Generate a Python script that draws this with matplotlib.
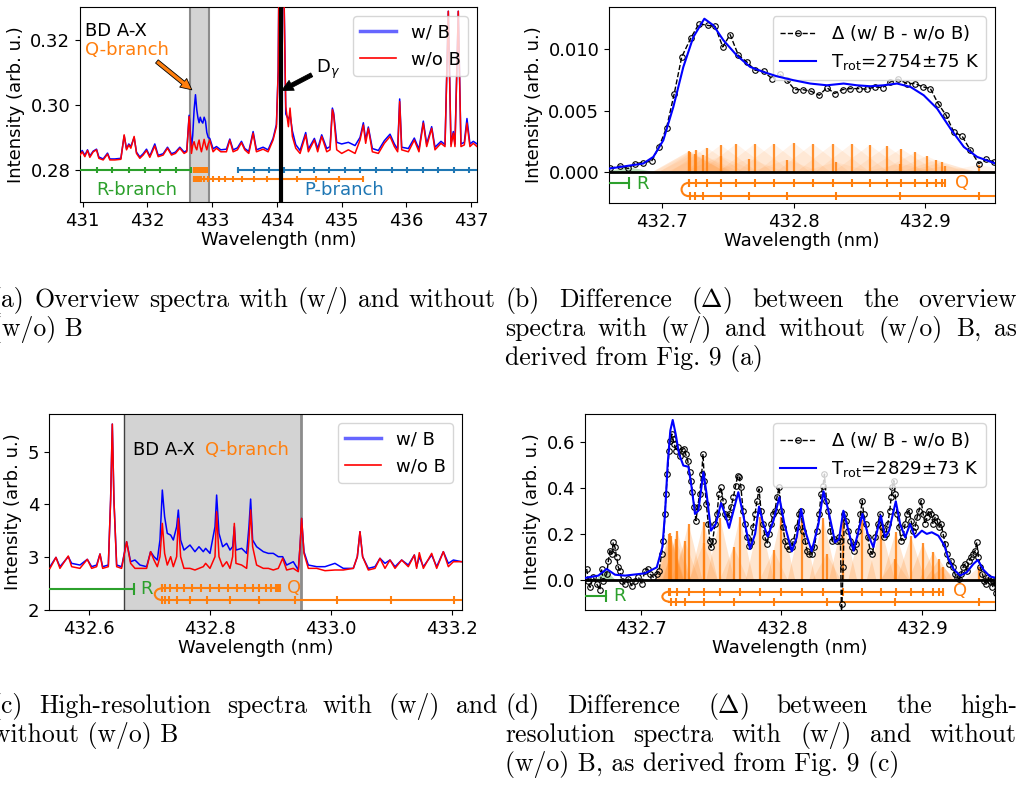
import matplotlib.pyplot as plt
from matplotlib.patches import Arc
from matplotlib.lines import Line2D

# ====== (a) overview spectra ====== #
wl_a = [430.96, 430.994, 431.035, 431.076, 431.112, 431.164, 431.215, 431.251, 431.318, 431.385,
        431.421, 431.498, 431.591, 431.642, 431.678, 431.714, 431.745, 431.796, 431.832, 431.884,
        431.935, 431.987, 432.038, 432.115, 432.167, 432.244, 432.311, 432.372, 432.434, 432.501,
        432.568, 432.609, 432.645, 432.681, 432.700, 432.722, 432.743, 432.763, 432.781, 432.799,
        432.817, 432.835, 432.856, 432.877, 432.898, 432.918, 432.940, 432.964, 433.015, 433.067,
        433.134, 433.221, 433.273, 433.324, 433.391, 433.453, 433.504, 433.566, 433.633, 433.684,
        433.787, 433.864, 433.941, 433.993, 434.02, 434.04, 434.065, 434.09, 434.12, 434.137,
        434.178, 434.203, 434.239, 434.291, 434.358, 434.445, 434.486, 434.579, 434.630, 434.692,
        434.770, 434.821, 434.857, 434.877, 434.924, 435.001, 435.104, 435.207, 435.284, 435.335,
        435.371, 435.412, 435.474, 435.567, 435.659, 435.747, 435.814, 435.865, 435.896, 435.927,
        436.030, 436.122, 436.194, 436.261, 436.313, 436.390, 436.441, 436.534, 436.596, 436.647,
        436.688, 436.724, 436.750, 436.801, 436.842, 436.894, 436.935, 436.981, 437.033, 437.09]
red_a = [0.2846, 0.2856, 0.2841, 0.2860, 0.2839, 0.2856, 0.2862, 0.2836, 0.2831, 0.2849,
         0.2831, 0.2831, 0.2833, 0.2908, 0.2862, 0.2877, 0.2867, 0.2903, 0.2851, 0.2836,
         0.2846, 0.2860, 0.2839, 0.2874, 0.2841, 0.2846, 0.2867, 0.2846, 0.2851, 0.2867,
         0.2851, 0.2856, 0.2964, 0.2851, 0.2875, 0.2887, 0.2870, 0.2862, 0.2880, 0.2892,
         0.2870, 0.2856, 0.2875, 0.2894, 0.2875, 0.2862, 0.2880, 0.2892, 0.2856, 0.2867,
         0.2856, 0.2856, 0.2892, 0.2856, 0.2862, 0.2884, 0.2862, 0.2851, 0.2913, 0.2856,
         0.2864, 0.2856, 0.2892, 0.2933, 0.3100, 0.3600, 0.4500, 0.3600, 0.3200, 0.2995,
         0.2933, 0.2990, 0.2903, 0.2867, 0.2851, 0.2908, 0.2856, 0.2892, 0.2856, 0.2903,
         0.2856, 0.2862, 0.2985, 0.2969, 0.2862, 0.2851, 0.2862, 0.2851, 0.2892, 0.2938,
         0.2882, 0.2928, 0.2856, 0.2851, 0.2882, 0.2903, 0.2872, 0.2856, 0.3010, 0.2862,
         0.2856, 0.2892, 0.2856, 0.2944, 0.2872, 0.2928, 0.2862, 0.2882, 0.2872, 0.3287,
         0.2872, 0.2913, 0.2872, 0.3287, 0.2872, 0.2877, 0.2944, 0.2872, 0.2882, 0.2872]
blue_a = [0.2850, 0.2860, 0.2845, 0.2862, 0.2843, 0.2858, 0.2864, 0.2840, 0.2834, 0.2852,
          0.2834, 0.2834, 0.2836, 0.2905, 0.2866, 0.2880, 0.2872, 0.2900, 0.2855, 0.2840,
          0.2850, 0.2864, 0.2843, 0.2880, 0.2845, 0.2850, 0.2870, 0.2850, 0.2855, 0.2870,
          0.2855, 0.2860, 0.2968, 0.2870, 0.2905, 0.2985, 0.3031, 0.2985, 0.2960, 0.2945,
          0.2962, 0.2950, 0.2944, 0.2962, 0.2950, 0.2915, 0.2900, 0.2897, 0.2865, 0.2872,
          0.2862, 0.2864, 0.2895, 0.2862, 0.2868, 0.2888, 0.2866, 0.2857, 0.2918, 0.2862,
          0.2870, 0.2862, 0.2897, 0.2940, 0.3105, 0.3600, 0.4500, 0.3600, 0.3210, 0.2972,
          0.2955, 0.2970, 0.2920, 0.2878, 0.2860, 0.2915, 0.2864, 0.2897, 0.2866, 0.2908,
          0.2866, 0.2872, 0.2990, 0.2975, 0.2885, 0.2880, 0.2885, 0.2875, 0.2900, 0.2945,
          0.2892, 0.2932, 0.2866, 0.2860, 0.2890, 0.2910, 0.2880, 0.2864, 0.3018, 0.2870,
          0.2866, 0.2898, 0.2864, 0.2950, 0.2880, 0.2933, 0.2870, 0.2888, 0.2878, 0.3287,
          0.2880, 0.2918, 0.2880, 0.3287, 0.2880, 0.2885, 0.2958, 0.2880, 0.2888, 0.2880]

# branch line positions (nm)
r_ticks = [431.22, 431.46, 431.71, 431.96, 432.20, 432.44, 432.674]
p_ticks = [433.40, 433.64, 433.88, 434.11, 434.35, 434.58, 434.81, 435.05, 435.29, 435.53,
           435.77, 436.01, 436.25, 436.49, 436.73, 436.97]
q1_pos = [432.7200, 432.7204, 432.7255, 432.7337, 432.7446, 432.7563, 432.7703, 432.7846,
          432.7998, 432.8145, 432.8299, 432.8440, 432.8578, 432.8709, 432.8816, 432.8925,
          432.9010, 432.9085, 432.9125, 432.9150]
q2_pos = [432.7211, 432.7247, 432.7312, 432.7444, 432.7660, 432.7945, 432.8323, 432.8808,
          432.9407, 433.010, 433.099, 433.203, 433.32, 433.46, 433.64, 433.84, 434.06,
          434.31, 434.60, 434.96, 435.33]
d_gamma = 434.065

# ====== (b) overview difference ====== #
wl_b = [432.6602, 432.6678, 432.6741, 432.6792, 432.6855, 432.6919, 432.6975, 432.7033, 432.7091,
        432.7148, 432.7219, 432.7280, 432.7344, 432.7402, 432.7460, 432.7516, 432.7579, 432.7643,
        432.7706, 432.7770, 432.7834, 432.7892, 432.7948, 432.8006, 432.8067, 432.8133, 432.8194,
        432.8252, 432.8310, 432.8371, 432.8430, 432.8493, 432.8557, 432.8615, 432.8676, 432.8734,
        432.8793, 432.8861, 432.8919, 432.8983, 432.9039, 432.9097, 432.9158, 432.9216, 432.9280,
        432.9343, 432.9407, 432.9465, 432.9521]
diff_b = [0.00030, 0.00049, 0.00030, 0.00070, 0.00078, 0.00089, 0.00205, 0.00362, 0.00637,
          0.00935, 0.01092, 0.01205, 0.01191, 0.01183, 0.01016, 0.01116, 0.00948, 0.00894,
          0.00827, 0.00818, 0.00759, 0.00794, 0.00746, 0.00670, 0.00670, 0.00656, 0.00624,
          0.00686, 0.00638, 0.00670, 0.00678, 0.00678, 0.00673, 0.00692, 0.00686, 0.00732,
          0.00754, 0.00719, 0.00719, 0.00692, 0.00678, 0.00557, 0.00462, 0.00327, 0.00292,
          0.00178, 0.00070, 0.00103, 0.00084]
wl_fit_b = [432.6602, 432.6855, 432.6932, 432.7008, 432.7084, 432.7160, 432.7236, 432.7320,
            432.7389, 432.7465, 432.7566, 432.7668, 432.7770, 432.7871, 432.7998, 432.8125,
            432.8252, 432.8379, 432.8480, 432.8582, 432.8683, 432.8785, 432.8887, 432.8988,
            432.9090, 432.9191, 432.9293, 432.9394, 432.9534]
fit_b = [0.00030, 0.00070, 0.00124, 0.00259, 0.00529, 0.00853, 0.01096, 0.01245, 0.01191,
         0.01070, 0.00948, 0.00854, 0.00813, 0.00778, 0.00746, 0.00719, 0.00705, 0.00719,
         0.00705, 0.00697, 0.00705, 0.00719, 0.00692, 0.00624, 0.00516, 0.00354, 0.00205,
         0.00124, 0.00070]
q1_h_b = [0.00165, 0.0017, 0.0018, 0.0020, 0.0022, 0.0023, 0.0023, 0.0023, 0.0024, 0.0023,
          0.0023, 0.0023, 0.0022, 0.0021, 0.0019, 0.0016, 0.0013, 0.0010, 0.0008, 0.0005]
q2_h_b = [0.0016, 0.0015, 0.0014, 0.0013, 0.0011, 0.0010, 0.0008, 0.0007, 0.0006]

# ====== (c) high-resolution spectra ====== #
wl_c = [432.5349, 432.5448, 432.5514, 432.5652, 432.5708, 432.5845, 432.5967, 432.6039, 432.6121,
        432.6177, 432.6221, 432.6315, 432.6353, 432.6381, 432.6408, 432.6453, 432.6535, 432.6618,
        432.6684, 432.6756, 432.6839, 432.6949, 432.7015, 432.7071, 432.7126, 432.7170, 432.7209,
        432.7247, 432.7291, 432.7347, 432.7391, 432.7446, 432.7474, 432.7512, 432.7567, 432.7667,
        432.7749, 432.7816, 432.7887, 432.7926, 432.7998, 432.8081, 432.8108, 432.8147, 432.8208,
        432.8274, 432.8329, 432.8373, 432.8401, 432.8428, 432.8522, 432.8605, 432.8643, 432.8671,
        432.8704, 432.8770, 432.8881, 432.8964, 432.9046, 432.9129, 432.9201, 432.9267, 432.9377,
        432.9460, 432.9488, 432.9515, 432.9554, 432.9626, 432.9764, 432.9902, 433.0067, 433.0205,
        433.0371, 433.0437, 433.0481, 433.0525, 433.0619, 433.0730, 433.0812, 433.0895, 433.0978,
        433.1061, 433.1171, 433.1281, 433.1381, 433.1419, 433.1463, 433.1530, 433.1668, 433.1751,
        433.1861, 433.1944, 433.2027, 433.2165]
red_c = [2.789, 2.997, 2.789, 3.023, 2.821, 2.789, 2.960, 2.789, 2.821,
         3.061, 2.789, 2.821, 4.083, 5.523, 4.083, 2.821, 2.789, 3.294,
         2.884, 2.789, 2.789, 2.789, 3.105, 2.947, 2.821, 3.010, 3.641,
         3.073, 2.852, 3.010, 2.821, 3.010, 3.736, 3.010, 2.789, 2.789,
         2.758, 2.789, 2.821, 2.884, 2.789, 3.010, 3.862, 3.010, 2.821,
         2.915, 2.789, 3.010, 3.641, 2.884, 2.852, 2.789, 3.326, 3.894,
         3.199, 2.852, 2.789, 2.789, 2.758, 2.789, 2.979, 2.758, 2.789,
         2.726, 3.199, 3.736, 3.073, 2.789, 2.789, 2.745, 2.758, 2.758,
         2.789, 3.010, 3.484, 3.010, 2.758, 2.789, 2.979, 2.789, 2.947,
         2.789, 2.947, 2.821, 3.042, 2.789, 3.086, 2.789, 3.073, 2.789,
         3.105, 2.821, 2.915, 2.915]
blue_c = [2.821, 2.997, 2.821, 3.010, 2.884, 2.852, 2.960, 2.821, 2.852,
          3.061, 2.821, 2.852, 4.083, 5.523, 4.083, 2.852, 2.821, 3.294,
          2.915, 2.947, 2.852, 2.821, 3.105, 3.010, 2.947, 3.326, 4.273,
          3.768, 3.452, 3.420, 3.326, 3.578, 3.894, 3.326, 3.136, 3.231,
          3.105, 3.199, 3.105, 3.168, 3.073, 3.578, 4.178, 3.452, 3.199,
          3.263, 3.136, 3.199, 3.578, 3.136, 3.168, 3.073, 3.578, 4.102,
          3.326, 3.199, 3.105, 3.073, 3.073, 3.010, 3.010, 2.852, 2.915,
          2.758, 3.199, 3.736, 3.105, 2.852, 2.821, 2.821, 2.884, 2.789,
          2.789, 3.010, 3.484, 3.010, 2.789, 2.821, 2.979, 2.884, 2.947,
          2.821, 2.947, 2.852, 3.042, 2.821, 3.010, 2.821, 3.042, 2.821,
          3.105, 2.884, 2.947, 2.915]

# ====== (d) high-resolution difference ====== #
wl_d = [432.6610, 432.6622, 432.6634, 432.6657, 432.6681, 432.6705, 432.6717, 432.6729, 432.6753,
        432.6765, 432.6776, 432.6788, 432.6800, 432.6812, 432.6824, 432.6836, 432.6848, 432.6860,
        432.6883, 432.6907, 432.6931, 432.6955, 432.6979, 432.7002, 432.7026, 432.7045, 432.7062,
        432.7086, 432.7110, 432.7126, 432.7145, 432.7157, 432.7169, 432.7176, 432.7186, 432.7198,
        432.7207, 432.7217, 432.7226, 432.7236, 432.7245, 432.7259, 432.7276, 432.7288, 432.7302,
        432.7316, 432.7331, 432.7345, 432.7355, 432.7364, 432.7378, 432.7390, 432.7402, 432.7416,
        432.7431, 432.7440, 432.7450, 432.7464, 432.7478, 432.7488, 432.7497, 432.7509, 432.7526,
        432.7540, 432.7554, 432.7569, 432.7583, 432.7597, 432.7611, 432.7626, 432.7640, 432.7657,
        432.7673, 432.7688, 432.7699, 432.7711, 432.7726, 432.7740, 432.7754, 432.7768, 432.7783,
        432.7797, 432.7811, 432.7826, 432.7840, 432.7854, 432.7868, 432.7883, 432.7897, 432.7911,
        432.7925, 432.7940, 432.7954, 432.7968, 432.7983, 432.7997, 432.8011, 432.8025, 432.8040,
        432.8054, 432.8073, 432.8085, 432.8109, 432.8126, 432.8140, 432.8154, 432.8169, 432.8183,
        432.8197, 432.8216, 432.8235, 432.8252, 432.8269, 432.8283, 432.8297, 432.8307, 432.8321,
        432.8335, 432.8350, 432.8364, 432.8378, 432.8395, 432.8411, 432.8421, 432.8428, 432.8432,
        432.8440, 432.8449, 432.8464, 432.8478, 432.8492, 432.8507, 432.8521, 432.8535, 432.8549,
        432.8564, 432.8576, 432.8587, 432.8602, 432.8616, 432.8633, 432.8649, 432.8668, 432.8687,
        432.8704, 432.8716, 432.8730, 432.8744, 432.8759, 432.8773, 432.8783, 432.8792, 432.8802,
        432.8811, 432.8825, 432.8840, 432.8854, 432.8868, 432.8882, 432.8897, 432.8911, 432.8925,
        432.8940, 432.8954, 432.8968, 432.8982, 432.8997, 432.9011, 432.9025, 432.9039, 432.9054,
        432.9068, 432.9082, 432.9097, 432.9111, 432.9125, 432.9139, 432.9154, 432.9168, 432.9182,
        432.9196, 432.9211, 432.9225, 432.9239, 432.9254, 432.9268, 432.9282, 432.9296, 432.9311,
        432.9325, 432.9339, 432.9353, 432.9368, 432.9382, 432.9394, 432.9406, 432.9420, 432.9434,
        432.9449, 432.9463, 432.9477, 432.9491, 432.9506, 432.9520, 432.9530]
diff_d = [0.048, -0.003, -0.032, 0.012, -0.017, -0.043, 0.048, -0.003, 0.026,
          0.084, 0.128, 0.113, 0.164, 0.142, 0.099, 0.055, 0.041, -0.003,
          -0.017, 0.004, -0.025, -0.003, 0.012, -0.017, 0.041, 0.048, 0.026,
          0.012, 0.026, 0.041, 0.113, 0.172, 0.288, 0.375, 0.462, 0.564,
          0.608, 0.637, 0.615, 0.593, 0.564, 0.579, 0.542, 0.567, 0.572,
          0.550, 0.521, 0.470, 0.433, 0.383, 0.317, 0.259, 0.317, 0.375,
          0.462, 0.550, 0.433, 0.332, 0.244, 0.172, 0.142, 0.172, 0.244,
          0.288, 0.375, 0.404, 0.346, 0.288, 0.273, 0.288, 0.317, 0.361,
          0.412, 0.455, 0.448, 0.404, 0.303, 0.244, 0.186, 0.150, 0.164,
          0.230, 0.288, 0.346, 0.397, 0.303, 0.244, 0.186, 0.157, 0.201,
          0.244, 0.288, 0.303, 0.361, 0.404, 0.303, 0.230, 0.172, 0.150,
          0.135, 0.142, 0.172, 0.230, 0.288, 0.303, 0.215, 0.172, 0.128,
          0.113, 0.113, 0.142, 0.215, 0.288, 0.375, 0.412, 0.462, 0.346,
          0.303, 0.215, 0.172, 0.179, 0.172, 0.186, 0.172, -0.150, -0.105,
          0.055, 0.288, 0.259, 0.215, 0.172, 0.142, 0.128, 0.157, 0.215,
          0.288, 0.346, 0.288, 0.244, 0.186, 0.128, 0.113, 0.186, 0.244,
          0.288, 0.230, 0.186, 0.201, 0.244, 0.303, 0.361, 0.404, 0.433,
          0.375, 0.288, 0.230, 0.172, 0.186, 0.244, 0.288, 0.303, 0.259,
          0.215, 0.230, 0.273, 0.303, 0.346, 0.288, 0.244, 0.273, 0.303,
          0.288, 0.244, 0.273, 0.259, 0.230, 0.244, 0.201, 0.157, 0.113,
          0.070, 0.084, 0.055, 0.026, 0.012, 0.004, 0.026, 0.055, 0.070,
          0.041, 0.084, 0.099, 0.113, 0.128, 0.164, 0.099, 0.055, 0.026,
          -0.003, -0.017, 0.012, -0.003, -0.032, -0.003, -0.058]
wl_fit_d = [432.6598, 432.6693, 432.6753, 432.6812, 432.6884, 432.7026, 432.7110, 432.7150,
            432.7169, 432.7188, 432.7207, 432.7224, 432.7245, 432.7269, 432.7300, 432.7336,
            432.7359, 432.7383, 432.7407, 432.7443, 432.7466, 432.7497, 432.7531, 432.7569,
            432.7597, 432.7626, 432.7664, 432.7692, 432.7721, 432.7776, 432.7812, 432.7840,
            432.7871, 432.7902, 432.7943, 432.7985, 432.8021, 432.8074, 432.8109, 432.8140,
            432.8169, 432.8216, 432.8264, 432.8300, 432.8335, 432.8383, 432.8411, 432.8442,
            432.8478, 432.8514, 432.8545, 432.8578, 432.8616, 432.8656, 432.8709, 432.8740,
            432.8768, 432.8816, 432.8847, 432.8883, 432.8918, 432.8954, 432.9002, 432.9037,
            432.9073, 432.9120, 432.9163, 432.9192, 432.9227, 432.9275, 432.9323, 432.9370,
            432.9401, 432.9442, 432.9489, 432.9532]
fit_d = [0.009, 0.019, 0.048, 0.023, 0.019, 0.029, 0.055, 0.143,
         0.288, 0.506, 0.652, 0.698, 0.637, 0.550, 0.499, 0.494,
         0.404, 0.288, 0.302, 0.470, 0.375, 0.215, 0.244, 0.335,
         0.288, 0.227, 0.317, 0.383, 0.302, 0.135, 0.201, 0.320,
         0.244, 0.189, 0.259, 0.361, 0.244, 0.125, 0.186, 0.310,
         0.215, 0.125, 0.244, 0.387, 0.302, 0.164, 0.179, 0.302,
         0.215, 0.128, 0.201, 0.288, 0.201, 0.143, 0.281, 0.186,
         0.215, 0.343, 0.244, 0.186, 0.244, 0.186, 0.215, 0.201,
         0.208, 0.193, 0.150, 0.092, 0.048, 0.019, 0.034, 0.070,
         0.087, 0.044, 0.015, 0.009]
q1_h_d = [0.200, 0.205, 0.215, 0.245, 0.255, 0.270, 0.273, 0.273, 0.276, 0.270,
          0.269, 0.265, 0.262, 0.233, 0.210, 0.190, 0.160, 0.124, 0.090, 0.058]
q2_h_d = [0.19, 0.18, 0.17, 0.16, 0.145, 0.13, 0.115, 0.09, 0.055]
r_line_pos = 432.6745
r_h_b, r_h_d = 0.0004, 0.045

W, H = 1021, 789
ORANGE, GREEN, PBLUE = 'tab:orange', 'tab:green', 'tab:blue'
plt.rcParams['font.size'] = 13


def box(l, t, r, b):
    return [l / W, 1 - b / H, (r - l) / W, (b - t) / H]


def branch(ax, start, end, y, ticks, color, ms=6):
    ax.plot([start, end], [y, y], color=color, lw=1.5, zorder=4)
    ax.plot(ticks, [y] * len(ticks), ls='none', marker='|', ms=ms, mew=1.5,
            color=color, zorder=4)


def hook(ax, x, y_up, y_low, px, width_px):
    # little turn-around joining the two Q-branch rows
    x0, x1 = ax.get_xlim()
    hw = px * (x1 - x0) / width_px
    ax.add_patch(Arc((x, (y_up + y_low) / 2), 2 * hw, y_up - y_low, theta1=90, theta2=270,
                     color=ORANGE, lw=1.5, zorder=4))


def sticks(ax, pos, heights, half, alpha):
    for x, h in zip(pos, heights):
        ax.fill([x - half, x, x + half], [0, h, 0], color=ORANGE, alpha=alpha, lw=0, zorder=1)
    ax.vlines(pos, 0, heights, color=ORANGE, lw=1.6, alpha=0.85, zorder=2)


spec_handles = [Line2D([], [], color='b', lw=2.5, alpha=0.6),
                Line2D([], [], color='r', lw=1.2)]

fig = plt.figure(figsize=(W / 100, H / 100), dpi=100)

# ======= (a) ======= #
ax = fig.add_axes(box(80, 7, 477, 202))
ax.set_xlim(430.96, 437.09)
ax.set_ylim(0.2702, 0.330)
ax.axvspan(432.66, 432.955, color='lightgray', lw=0, zorder=0)
ax.axvline(432.66, color='0.55', lw=1.5, zorder=0)
ax.axvline(432.955, color='0.55', lw=1.5, zorder=0)
ax.plot(wl_a, blue_a, color='b', lw=1.1, zorder=2)
ax.plot(wl_a, red_a, color='r', lw=1.1, zorder=3)
ax.axvline(d_gamma, color='k', lw=3, zorder=5)
branch(ax, 430.9, 432.674, 0.28, r_ticks, GREEN, ms=5)
branch(ax, 433.40, 437.2, 0.28, p_ticks, PBLUE, ms=5)
branch(ax, 432.72, 432.915, 0.28, q1_pos, ORANGE, ms=5)
branch(ax, 432.72, 435.33, 0.2774, q2_pos, ORANGE, ms=5)
ax.text(431.836, 0.2738, 'R-branch', color=GREEN, ha='center', va='center')
ax.text(435.04, 0.2738, 'P-branch', color=PBLUE, ha='center', va='center')
ax.text(431.04, 0.3226, 'BD A-X', color='k', va='center')
ax.text(431.04, 0.3169, 'Q-branch', color=ORANGE, va='center')
ax.annotate('', xy=(432.687, 0.3046), xytext=(432.147, 0.3133),
            arrowprops=dict(facecolor=ORANGE, edgecolor='k', lw=0.6, width=3,
                            headwidth=8, headlength=8, shrink=0))
ax.annotate('', xy=(434.076, 0.3044), xytext=(434.538, 0.3092),
            arrowprops=dict(facecolor='k', edgecolor='k', lw=0.6, width=3,
                            headwidth=8, headlength=8, shrink=0))
ax.text(434.6, 0.3108, r'D$_\gamma$', va='center')
ax.set_xticks([431, 432, 433, 434, 435, 436, 437])
ax.set_yticks([0.28, 0.30, 0.32])
ax.set_xlabel('Wavelength (nm)', labelpad=1)
ax.set_ylabel('Intensity (arb. u.)')
ax.legend(spec_handles, ['w/ B', 'w/o B'], loc='upper right', fontsize=13)

# ======= (b) ======= #
ax = fig.add_axes(box(609, 7, 995, 203))
ax.set_xlim(432.6595, 432.953)
ax.set_ylim(-0.0025, 0.0134)
sticks(ax, q1_pos, q1_h_b, 0.028, 0.09)
sticks(ax, q2_pos[:9], q2_h_b, 0.028, 0.07)
ax.fill([r_line_pos - 0.02, r_line_pos, r_line_pos + 0.02], [0, r_h_b, 0],
        color=GREEN, alpha=0.3, lw=0, zorder=1)
ax.axhline(0, color='k', lw=2, zorder=3)
ax.plot(wl_b, diff_b, color='k', ls='--', lw=1, marker='o', ms=4, mfc='none', mew=0.8,
        zorder=5, label=r'$\Delta$ (w/ B - w/o B)')
ax.plot(wl_fit_b, fit_b, color='b', lw=1.5, zorder=6, label='T$_{\\rm rot}$=2754±75 K')
branch(ax, 432.60, r_line_pos, -0.00089, [r_line_pos], GREEN, ms=8)
branch(ax, 432.72, 432.915, -0.00087, q1_pos, ORANGE)
branch(ax, 432.72, 433.5, -0.00194, q2_pos, ORANGE)
hook(ax, 432.72, -0.00087, -0.00194, 7, 386)
ax.text(432.680, -0.00092, 'R', color=GREEN, va='center')
ax.text(432.9229, -0.00087, 'Q', color=ORANGE, va='center')
ax.set_xticks([432.7, 432.8, 432.9])
ax.set_yticks([0.0, 0.005, 0.010])
ax.ticklabel_format(useOffset=False)
ax.set_xlabel('Wavelength (nm)', labelpad=1)
ax.set_ylabel('Intensity (arb. u.)')
ax.legend(loc='upper right', fontsize=13)

# ======= (c) ======= #
ax = fig.add_axes(box(49, 414, 462, 610))
ax.set_xlim(432.5333, 433.217)
ax.set_ylim(2.0, 5.714)
ax.axvspan(432.658, 432.951, color='lightgray', lw=0, zorder=0)
ax.axvline(432.658, color='0.25', lw=1, zorder=0)
ax.axvline(432.951, color='0.55', lw=2, zorder=0)
ax.plot(wl_c, blue_c, color='b', lw=1.1, zorder=2)
ax.plot(wl_c, red_c, color='r', lw=1.1, zorder=3)
branch(ax, 432.50, r_line_pos, 2.40, [r_line_pos], GREEN, ms=8)
branch(ax, 432.72, 432.915, 2.41, q1_pos, ORANGE)
branch(ax, 432.72, 435.33, 2.19, q2_pos, ORANGE)
hook(ax, 432.72, 2.41, 2.19, 7, 413)
ax.text(432.684, 2.40, 'R', color=GREEN, va='center')
ax.text(432.927, 2.42, 'Q', color=ORANGE, va='center')
ax.text(432.673, 5.03, 'BD A-X ', color='k', va='center')
ax.text(432.7916, 5.03, 'Q-branch', color=ORANGE, va='center')
ax.set_xticks([432.6, 432.8, 433.0, 433.2])
ax.set_yticks([2, 3, 4, 5])
ax.ticklabel_format(useOffset=False)
ax.set_xlabel('Wavelength (nm)', labelpad=1)
ax.set_ylabel('Intensity (arb. u.)')
ax.legend(spec_handles, ['w/ B', 'w/o B'], loc='upper right', fontsize=13)

# ======= (d) ======= #
ax = fig.add_axes(box(585, 414, 995, 610))
ax.set_xlim(432.6598, 432.9524)
ax.set_ylim(-0.131, 0.724)
sticks(ax, q1_pos, q1_h_d, 0.010, 0.2)
sticks(ax, q2_pos[:9], q2_h_d, 0.010, 0.15)
ax.fill([r_line_pos - 0.007, r_line_pos, r_line_pos + 0.007], [0, r_h_d, 0],
        color=GREEN, alpha=0.35, lw=0, zorder=1)
ax.axhline(0, color='k', lw=2, zorder=3)
ax.plot(wl_d, diff_d, color='k', ls='--', lw=1, marker='o', ms=4, mfc='none', mew=0.8,
        zorder=5, label=r'$\Delta$ (w/ B - w/o B)')
ax.plot(wl_fit_d, fit_d, color='b', lw=1.5, zorder=6, label='T$_{\\rm rot}$=2829±73 K')
branch(ax, 432.60, r_line_pos, -0.070, [r_line_pos], GREEN, ms=8)
branch(ax, 432.72, 432.915, -0.051, q1_pos, ORANGE)
branch(ax, 432.72, 433.5, -0.0945, q2_pos, ORANGE)
hook(ax, 432.72, -0.051, -0.0945, 7, 410)
ax.text(432.6798, -0.068, 'R', color=GREEN, va='center')
ax.text(432.9221, -0.048, 'Q', color=ORANGE, va='center')
ax.set_xticks([432.7, 432.8, 432.9])
ax.set_yticks([0.0, 0.2, 0.4, 0.6])
ax.ticklabel_format(useOffset=False)
ax.set_xlabel('Wavelength (nm)', labelpad=1)
ax.set_ylabel('Intensity (arb. u.)')
ax.legend(loc='upper right', fontsize=13)

# ======= sub-captions (LaTeX-like, justified) ======= #
cap_kw = dict(family='cmr10', fontsize=18.5, math_fontfamily='cm', va='baseline')
renderer = fig.canvas.get_renderer()


def cap_line(words, x0, y, x1=None):
    if x1 is None:
        fig.text(x0 / W, 1 - y / H, ' '.join(words), **cap_kw)
        return
    texts = [fig.text(0, 0, w, **cap_kw) for w in words]
    widths = [t.get_window_extent(renderer).width for t in texts]
    gap = (x1 - x0 - sum(widths)) / (len(words) - 1)
    x = x0
    for t, w in zip(texts, widths):
        t.set_position((x / W, 1 - y / H))
        x += w + gap


cap_line(['(a)', 'Overview', 'spectra', 'with', '(w/)', 'and', 'without'], -8, 307, 496)
cap_line(['(w/o)', 'B'], -8, 336)
cap_line(['(b)', 'Difference', r'($\Delta$)', 'between', 'the', 'overview'], 505, 307, 1017)
cap_line(['spectra', 'with', '(w/)', 'and', 'without', '(w/o)', 'B,', 'as'], 505, 336, 1017)
cap_line(['derived', 'from', 'Fig.', '9', '(a)'], 505, 365)
cap_line(['(c)', 'High-resolution', 'spectra', 'with', '(w/)', 'and'], -8, 713, 497)
cap_line(['without', '(w/o)', 'B'], -8, 742)
cap_line(['(d)', 'Difference', r'($\Delta$)', 'between', 'the', 'high-'], 505, 713, 1017)
cap_line(['resolution', 'spectra', 'with', '(w/)', 'and', 'without'], 505, 742, 1017)
cap_line(['(w/o)', 'B,', 'as', 'derived', 'from', 'Fig.', '9', '(c)'], 505, 771)

fig.savefig('out.png', dpi=100)
